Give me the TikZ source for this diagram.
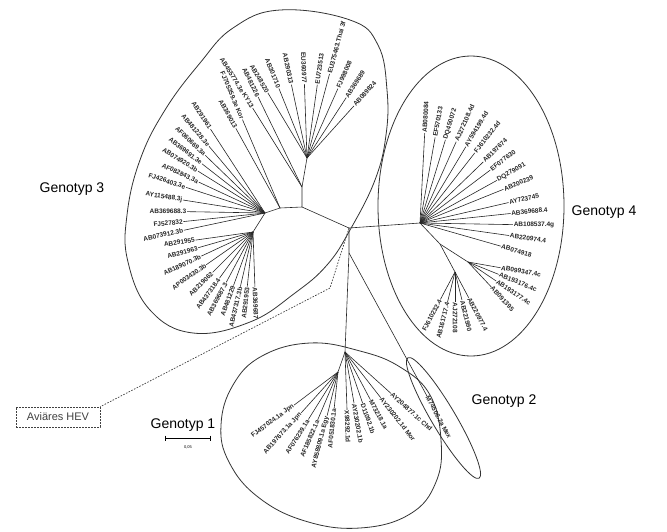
\documentclass[tikz,border=0pt]{standalone}
\usepackage{fontspec}
\setmainfont{Liberation Sans}
\newcounter{lfc}
% leaf: hub, direction (degrees, clockwise from east on the page), branch length, label
\newcommand\lf[4]{%
  \stepcounter{lfc}%
  \pgfmathtruncatemacro\lflip{cos(#2)<0 ? 1 : 0}%
  \ifnum\lflip=1
    \def\lanc{east}\pgfmathsetmacro\lrot{180-(#2)}%
  \else
    \def\lanc{west}\pgfmathsetmacro\lrot{-(#2)}%
  \fi
  \path (#1) ++(#2:#3) coordinate (e\thelfc);
  \draw[branch] (#1) -- (e\thelfc);
  \node[lab, anchor=\lanc, rotate=\lrot] (t\thelfc) at (e\thelfc) {#4};%
}
\begin{document}
\begin{tikzpicture}[x=1pt,y=-1pt,
  branch/.style={line width=0.6pt, black!85},
  lab/.style={font=\fontsize{6.5}{7}\selectfont\bfseries, inner sep=0.6pt, black!85},
  hull/.style={line width=0.8pt, black!80},
  gt/.style={font=\fontsize{14}{16}\selectfont, inner sep=0pt},
  dashline/.style={line width=0.7pt, black!75, dash pattern=on 1.6pt off 1.4pt}]
\useasboundingbox (0,0) rectangle (667,531);

% internal nodes of the tree
\coordinate (C) at (349,228);
\coordinate (A) at (302,207);
\coordinate (B) at (280,208);
\coordinate (D) at (265,213);
\coordinate (E) at (253,232);
\coordinate (F) at (302,187);
\coordinate (G) at (307,158);
\coordinate (K) at (420,223);
\coordinate (M) at (440,244);
\coordinate (N1) at (468,262);
\coordinate (N2) at (455,272);
\coordinate (H) at (349,253);
\coordinate (I) at (345,352);
\coordinate (J) at (338,372);

\draw[branch] (C) -- (A) -- (B) -- (D) -- (E);
\draw[branch] (A) -- (F) -- (G);
\draw[branch] (C) -- (K) -- (M) -- (N1);
\draw[branch] (M) -- (N2);
\draw[branch] (C) -- (H) -- (I) -- (J);

% group outlines
\draw[hull] plot[smooth cycle, tension=0.7] coordinates {(280,10) (350,20) (378,45) (387,90) (386,135) (375,180) (350,230) (327,265) (295,293) (250,322) (193,333) (150,310) (128,262) (127,215) (140,160) (165,110) (200,63) (233,28)};
\draw[hull] (471,206) ellipse [x radius=93pt, y radius=150pt];
\draw[hull] plot[smooth cycle, tension=0.7] coordinates {(310,343) (360,351) (400,367) (430,395) (441,440) (436,482) (410,514) (360,528) (305,521) (258,497) (229,462) (221,425) (233,385) (262,356)};
\draw[hull, rotate around={-59.4:(443.5,418)}] (443.5,418) ellipse [x radius=70pt, y radius=12pt];

% genotype 3
\lf{B}{-119}{91}{AB369013}
\lf{B}{-113}{96}{FJ705359.3e Kor}
\lf{F}{-122}{93}{AB455774.3e KY13}
\lf{F}{-116}{100}{AB481226}
\lf{G}{-121}{76}{AB248520}
\lf{G}{-112}{75}{AB301710}
\lf{G}{-102}{75}{AB290313}
\lf{G}{-92}{74}{EU360977}
\lf{G}{-82}{74}{EU723513}
\lf{G}{-75}{87}{EU375463.Thai 3f}
\lf{G}{-66}{76}{FJ998008}
\lf{G}{-57}{72}{AB369689}
\lf{G}{-48}{70}{AB089824}
\lf{D}{-123}{100}{AB291961}
\lf{D}{-130}{87}{AB481228.3e}
\lf{D}{-136}{83}{AF060669.3a}
\lf{D}{-142}{80}{AB369691.3e}
\lf{D}{-148}{79}{AB074920.3b}
\lf{D}{-155}{73}{AF082843.3a}
\lf{D}{-162}{83}{FJ426403.3e}
\lf{D}{-171}{83}{AY115488.3j}
\lf{D}{-179}{78}{AB369688.3}
\lf{D}{174}{82}{FJ527832}
\lf{D}{168}{83}{AB073912.3b}
\lf{E}{172}{58}{AB291955}
\lf{E}{164}{57}{AB291963}
\lf{E}{155}{57}{AB189070.3b}
\lf{E}{145}{57}{AP003430.3b}
\lf{E}{135}{57}{AB219062}
\lf{E}{126}{57}{AB437318.4}
\lf{E}{118}{57}{AB369687.3}
\lf{E}{110}{57}{AB481229}
\lf{E}{103}{56}{AB437317.3b}
\lf{E}{96}{55}{AB291953}
\lf{E}{88}{55}{AB369687}

% genotype 4
\lf{K}{-87}{90}{AB080084}
\lf{K}{-80}{87}{EF570133}
\lf{K}{-73}{87}{DQ450072}
\lf{K}{-66}{89}{AJ272108.4d}
\lf{K}{-59}{89}{AY594199.4d}
\lf{K}{-52}{89}{FJ610232.4d}
\lf{K}{-44}{88}{AB197674}
\lf{K}{-37}{88}{EF077630}
\lf{K}{-29}{88}{DQ279091}
\lf{K}{-22}{90}{AB200239}
\lf{K}{-13}{91}{AY723745}
\lf{K}{-6}{91}{AB369688.4}
\lf{K}{1}{93}{AB108537.4g}
\lf{K}{8}{90}{AB220974.4}
\lf{K}{16}{84}{AB074918}
\lf{N1}{10}{33}{AB099347.4c}
\lf{N1}{22}{33}{AB193176.4c}
\lf{N1}{34}{34}{AB193177.4c}
\lf{N1}{47}{34}{AB091395}
\lf{N2}{118}{31}{FJ610232.4}
\lf{N2}{104}{31}{AB161717.4}
\lf{N2}{90}{30}{AJ272108}
\lf{N2}{76}{29}{AB221990}
\lf{N2}{62}{29}{AB220977.4}

% genotype 1
\lf{J}{143}{55}{FJ457024.1a Jpn}
\lf{J}{132}{55}{AB197673.1a Jpn}
\lf{J}{122}{56}{AF076239.1a}
\lf{J}{113}{52}{AF185822.1a}
\lf{J}{104}{45}{AY858809.1a Egy}
\lf{J}{96}{36}{AF051830.1a}
\lf{I}{88}{58}{X98292.1d}
\lf{I}{80}{52}{AY230202.1b}
\lf{I}{71}{54}{D11092.1b}
\lf{I}{62}{54}{M73218.1a}
\lf{I}{52}{58}{AY230202.1d Mor}
\lf{I}{42}{62}{AY204877.1c Chd}

% genotype 2
\lf{H}{61.4}{163}{M74506.2a Mex}

% group names
\node[gt] (g3) at (72,189) {Genotyp 3};
\node[gt] (g4) at (604,212) {Genotyp 4};
\node[gt] (g1) at (183,425) {Genotyp 1};
\node[gt] (g2) at (504,401) {Genotyp 2};

% avian HEV outgroup
\node[draw, dashline, font=\fontsize{11}{13}\selectfont, minimum width=84pt, minimum height=20pt, inner sep=0pt] (avi) at (58,417) {Aviäres HEV};
\coordinate (k1) at (330,288);
\draw[dashline] (C) -- (k1) -- (avi.north east);

% scale bar
\coordinate (s1) at (165,438);
\coordinate (s2) at (210,438);
\draw[line width=0.6pt] (s1) -- (s2);
\draw[line width=0.6pt] (s1) ++(0,-2.5) -- ++(0,5);
\draw[line width=0.6pt] (s2) ++(0,-2.5) -- ++(0,5);
\node[font=\fontsize{4}{5}\selectfont, inner sep=0pt] (sl) at (188,447) {0,05};
\end{tikzpicture}
\end{document}
